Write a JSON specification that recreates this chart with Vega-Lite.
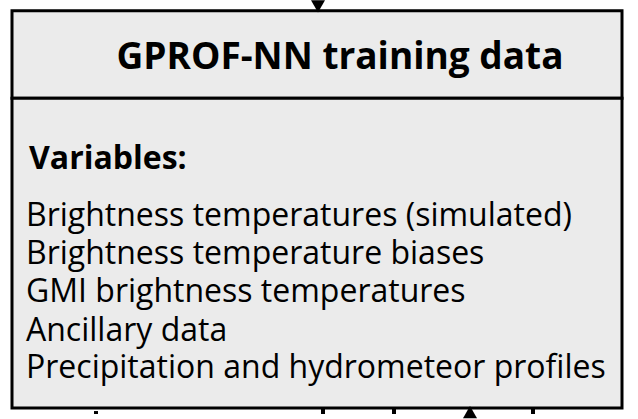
{
  "$schema": "https://vega.github.io/schema/vega-lite/v6.json",
  "width": 638,
  "height": 419,
  "autosize": {"type": "fit", "contains": "padding"},
  "padding": 0,
  "background": "white",
  "config": {"view": {"stroke": null}},
  "datasets": {
    "boxes": [
      {"part": "header", "x": 12, "x2": 622, "y": 9, "y2": 98},
      {"part": "body", "x": 12, "x2": 622, "y": 98, "y2": 414}
    ],
    "stubs": [
      {"x": 323, "y": 414, "y2": 420},
      {"x": 394, "y": 414, "y2": 420},
      {"x": 533, "y": 414, "y2": 420},
      {"x": 96, "y": 417, "y2": 420}
    ],
    "arrows": [
      {"dir": "down", "x": 318, "y": 5.25},
      {"dir": "up", "x": 470, "y": 417.25}
    ],
    "texts": [
      {"kind": "title", "label": "GPROF-NN training data", "x": 340, "y": 57},
      {"kind": "heading", "label": "Variables:", "x": 29, "y": 160},
      {"kind": "item", "label": "Brightness temperatures (simulated)", "x": 26, "y": 218},
      {"kind": "item", "label": "Brightness temperature biases", "x": 26, "y": 257},
      {"kind": "item", "label": "GMI brightness temperatures", "x": 26, "y": 296},
      {"kind": "item", "label": "Ancillary data", "x": 26, "y": 335},
      {"kind": "item", "label": "Precipitation and hydrometeor profiles", "x": 26, "y": 373}
    ]
  },
  "layer": [
    {
      "data": {"name": "boxes"},
      "mark": {"type": "rect", "fill": "#ebebeb", "stroke": "black", "strokeWidth": 3},
      "encoding": {
        "x": {"field": "x", "type": "quantitative", "scale": {"domain": [0, 638], "nice": false, "zero": false}, "axis": null},
        "x2": {"field": "x2"},
        "y": {"field": "y", "type": "quantitative", "scale": {"domain": [0, 419], "nice": false, "zero": false, "reverse": true}, "axis": null},
        "y2": {"field": "y2"}
      }
    },
    {
      "data": {"name": "stubs"},
      "mark": {"type": "rule", "stroke": "black", "strokeWidth": 4},
      "encoding": {
        "x": {"field": "x", "type": "quantitative"},
        "y": {"field": "y", "type": "quantitative"},
        "y2": {"field": "y2"}
      }
    },
    {
      "data": {"name": "arrows"},
      "transform": [{"filter": "datum.dir === 'down'"}],
      "mark": {"type": "point", "shape": "M-1,-1L1,-1L0,0.75Z", "size": 196, "filled": true, "fill": "black", "opacity": 1},
      "encoding": {
        "x": {"field": "x", "type": "quantitative"},
        "y": {"field": "y", "type": "quantitative"}
      }
    },
    {
      "data": {"name": "arrows"},
      "transform": [{"filter": "datum.dir === 'up'"}],
      "mark": {"type": "point", "shape": "M-1,1L1,1L0,-0.75Z", "size": 196, "filled": true, "fill": "black", "opacity": 1},
      "encoding": {
        "x": {"field": "x", "type": "quantitative"},
        "y": {"field": "y", "type": "quantitative"}
      }
    },
    {
      "data": {"name": "texts"},
      "transform": [{"filter": "datum.kind === 'title'"}],
      "mark": {"type": "text", "font": "Open Sans", "fontWeight": "bold", "fontSize": 37, "align": "center", "baseline": "middle", "color": "black"},
      "encoding": {
        "x": {"field": "x", "type": "quantitative"},
        "y": {"field": "y", "type": "quantitative"},
        "text": {"field": "label"}
      }
    },
    {
      "data": {"name": "texts"},
      "transform": [{"filter": "datum.kind === 'heading'"}],
      "mark": {"type": "text", "font": "Open Sans", "fontWeight": "bold", "fontSize": 32, "align": "left", "baseline": "middle", "color": "black"},
      "encoding": {
        "x": {"field": "x", "type": "quantitative"},
        "y": {"field": "y", "type": "quantitative"},
        "text": {"field": "label"}
      }
    },
    {
      "data": {"name": "texts"},
      "transform": [{"filter": "datum.kind === 'item'"}],
      "mark": {"type": "text", "font": "Open Sans", "fontSize": 32, "align": "left", "baseline": "middle", "color": "black"},
      "encoding": {
        "x": {"field": "x", "type": "quantitative"},
        "y": {"field": "y", "type": "quantitative"},
        "text": {"field": "label"}
      }
    }
  ]
}
